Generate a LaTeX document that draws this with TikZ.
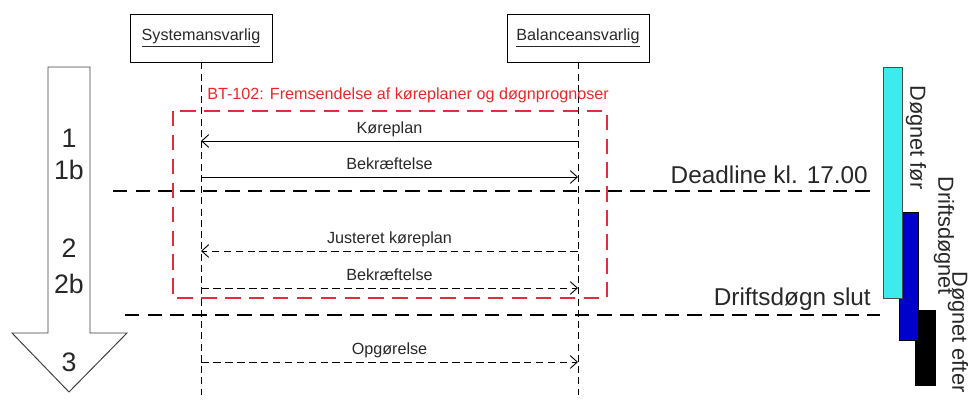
\documentclass[tikz,border=0pt]{standalone}
\usepackage{fontspec}
\setmainfont{Liberation Sans}
\usepackage{xcolor}
\usetikzlibrary{arrows.meta,positioning}
\definecolor{txtgray}{RGB}{40,40,40}
\definecolor{framered}{RGB}{225,45,60}
\definecolor{titlered}{RGB}{235,40,40}
\definecolor{barcyan}{RGB}{60,235,235}
\definecolor{barblue}{RGB}{0,0,205}
\tikzstyle{actor} = [draw, line width=0.6pt, minimum width=3.55cm, minimum height=1.2cm, text=txtgray, font=\fontsize{11.5}{13}\selectfont]
\tikzstyle{lifeline} = [line width=0.7pt, dash pattern=on 5pt off 3pt]
\tikzstyle{msg} = [line width=0.65pt, -{Straight Barb[length=5pt,width=9pt]}]
\tikzstyle{reply} = [msg, dash pattern=on 5.5pt off 3pt]
\tikzstyle{lbl} = [anchor=base, yshift=5pt, inner sep=0pt, text=txtgray, font=\fontsize{11.5}{13}\selectfont]
\tikzstyle{limit} = [line width=1.4pt, dash pattern=on 10pt off 6pt]
\tikzstyle{limitlbl} = [anchor=south east, inner sep=0pt, text=txtgray, font=\fontsize{17.3}{20}\selectfont]
\tikzstyle{frame} = [draw=framered, line width=1.4pt, dash pattern=on 11pt off 6pt]
\tikzstyle{big} = [inner sep=0pt, text=txtgray, font=\fontsize{19}{22}\selectfont]
\tikzstyle{side} = [rotate=-90, anchor=west, inner sep=0pt, text=txtgray, font=\fontsize{15.5}{18}\selectfont]

\begin{document}
\begin{tikzpicture}[x=0.025cm, y=-0.025cm]
  \useasboundingbox (0,0) rectangle (976,408);

  % time arrow
  \draw[line width=0.7pt, draw=black!75, fill=white]
    (48,67) -- (90,67) -- (90,333) -- (127,333) -- (69,392) -- (12,333) -- (48,333) -- cycle;
  \node[big] (n1) at (69,138) {1};
  \node[big] (n1b) at (69,170) {1b};
  \node[big] (n2) at (69,248) {2};
  \node[big] (n2b) at (69,284) {2b};
  \node[big] (n3) at (69,362) {3};

  % actors
  \node[actor] (sys) at (201,38) {\underline{Systemansvarlig}};
  \node[actor] (bal) at (578,38) {\underline{Balanceansvarlig}};
  \coordinate (sysend) at (201,395);
  \coordinate (balend) at (578,395);
  \draw[lifeline] (sys) -- (sysend);
  \draw[lifeline] (bal) -- (balend);

  % BT-102 frame
  \draw[frame] (173,111) rectangle (607,298);
  \node[anchor=west, inner sep=0pt, text=titlered, font=\fontsize{11.5}{13}\selectfont] (title) at (207,95)
    {BT-102: Fremsendelse af køreplaner og døgnprognoser};

  % messages
  \coordinate (s1) at (201,141);  \coordinate (b1) at (578,141);
  \coordinate (s2) at (201,177);  \coordinate (b2) at (578,177);
  \coordinate (s3) at (201,251);  \coordinate (b3) at (578,251);
  \coordinate (s4) at (201,288);  \coordinate (b4) at (578,288);
  \coordinate (s5) at (201,362);  \coordinate (b5) at (578,362);
  \draw[msg] (b1) -- node[lbl] {Køreplan} (s1);
  \draw[msg] (s2) -- node[lbl] {Bekræftelse} (b2);
  \draw[reply] (b3) -- node[lbl] {Justeret køreplan} (s3);
  \draw[reply] (s4) -- node[lbl] {Bekræftelse} (b4);
  \draw[reply] (s5) -- node[lbl] {Opgørelse} (b5);

  % limits
  \coordinate (dl1) at (113,191);  \coordinate (dl2) at (872,191);
  \coordinate (ds1) at (125,315);  \coordinate (ds2) at (880,315);
  \draw[limit] (dl1) -- (dl2);
  \draw[limit] (ds1) -- (ds2);
  \node[limitlbl] (deadline) at (868,184) {Deadline kl. 17.00};
  \node[limitlbl] (slut) at (871,311) {Driftsdøgn slut};

  % days
  \draw[line width=0.6pt, fill=black] (915,310) rectangle (935,385);
  \draw[line width=0.6pt, fill=barblue] (899,212) rectangle (918,340);
  \draw[line width=0.6pt, draw=black!70, fill=barcyan] (883,67) rectangle (902,298);
  \node[side] (before) at (916,85) {Døgnet før};
  \node[side] (during) at (944,176) {Driftsdøgnet};
  \node[side] (after) at (958,271) {Døgnet efter};
\end{tikzpicture}
\end{document}
